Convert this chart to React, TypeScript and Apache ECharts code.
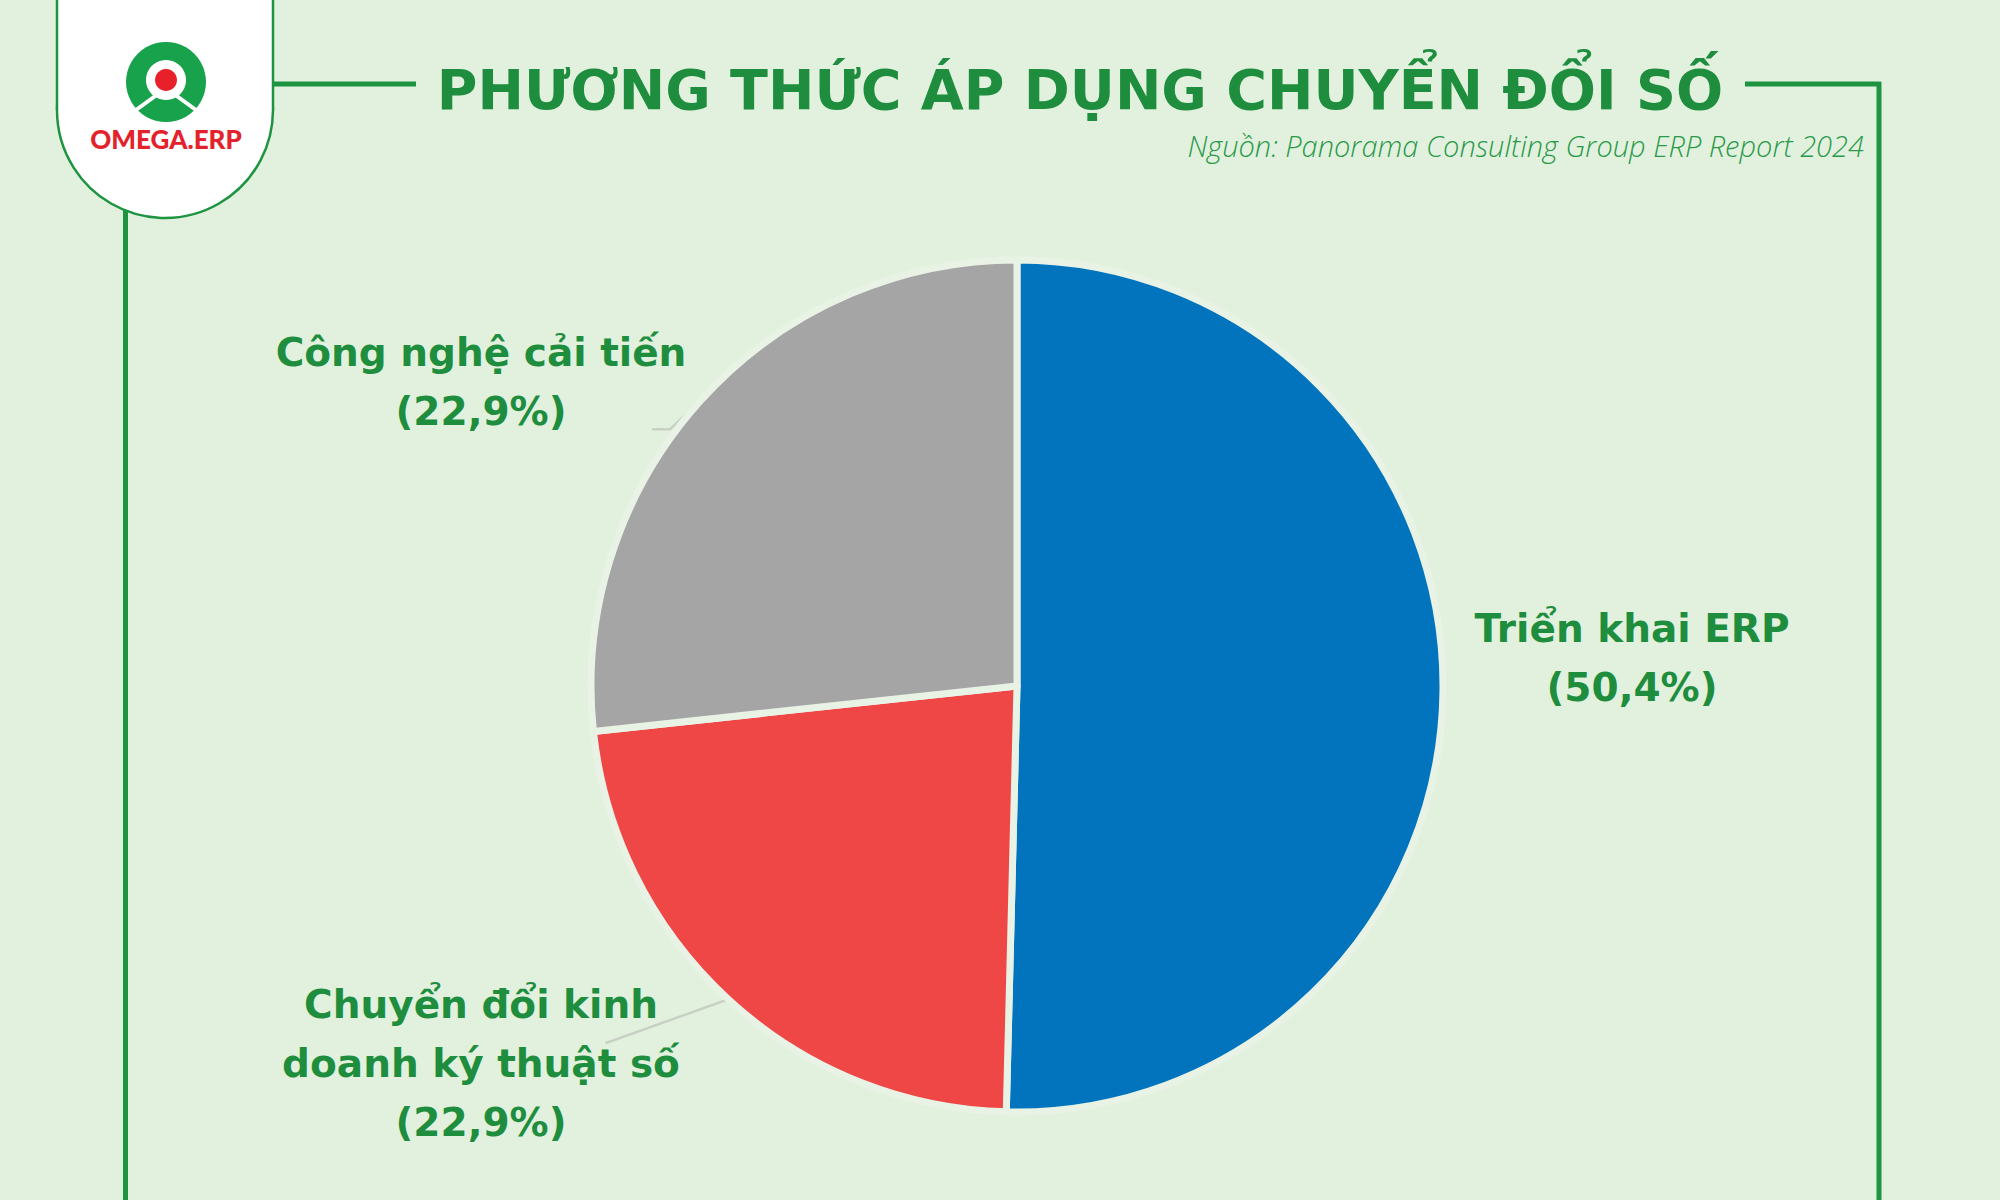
import React, { useEffect, useRef } from "react";
import * as echarts from "echarts";

const categories = ["Triển khai ERP", "Chuyển đổi kinh\ndoanh ký thuật số", "Công nghệ cải tiến"];
const values = [50.4, 22.9, 26.7];
const percentLabels = ["50,4%", "22,9%", "22,9%"];
const colors = ["#0174bd", "#ef4646", "#a5a5a5"];
const labelCenters = [
  [1632, 658],
  [481, 1063],
  [481, 382],
];
// label-line bends, relative to the slice edge point
const labelLineBends: number[][][] = [
  [],
  [[-123, 44]],
  [[-30, 28], [-48, 28]],
];

const titleText = "PHƯƠNG THỨC ÁP DỤNG CHUYỂN ĐỔI SỐ";
const sourceText = "Nguồn: Panorama Consulting Group ERP Report 2024";
const brandText = "OMEGA.ERP";

const GREEN = "#1d9440";
const TEXT_GREEN = "#1e8e3e";
const BG = "#e2f1de";

export default function App() {
  const ref = useRef<HTMLDivElement>(null);

  useEffect(() => {
    document.body.style.margin = "0";
    const chart = echarts.init(ref.current!, null, { renderer: "svg" });
    const option: any = {
      animation: false,
      backgroundColor: BG,
      graphic: [
        // frame lines
        { type: "line", shape: { x1: 273, y1: 84, x2: 416, y2: 84 }, style: { stroke: GREEN, lineWidth: 5 } },
        { type: "line", shape: { x1: 1745, y1: 84, x2: 1881, y2: 84 }, style: { stroke: GREEN, lineWidth: 5 } },
        { type: "line", shape: { x1: 1879, y1: 82, x2: 1879, y2: 1200 }, style: { stroke: GREEN, lineWidth: 5 } },
        { type: "line", shape: { x1: 125.5, y1: 200, x2: 125.5, y2: 1200 }, style: { stroke: GREEN, lineWidth: 5 } },
        // logo badge
        { type: "circle", shape: { cx: 165, cy: 110, r: 108 }, style: { fill: "#ffffff", stroke: GREEN, lineWidth: 2.5 } },
        { type: "rect", shape: { x: 57, y: -10, width: 216, height: 120 }, style: { fill: "#ffffff" } },
        { type: "line", shape: { x1: 57, y1: -5, x2: 57, y2: 110 }, style: { stroke: GREEN, lineWidth: 2.5 } },
        { type: "line", shape: { x1: 273, y1: -5, x2: 273, y2: 110 }, style: { stroke: GREEN, lineWidth: 2.5 } },
        // logo icon
        { type: "circle", shape: { cx: 166, cy: 82, r: 40 }, style: { fill: "#18a24c" } },
        { type: "line", shape: { x1: 158, y1: 94, x2: 136, y2: 110 }, style: { stroke: "#ffffff", lineWidth: 4 } },
        { type: "line", shape: { x1: 174, y1: 94, x2: 196, y2: 110 }, style: { stroke: "#ffffff", lineWidth: 4 } },
        { type: "circle", shape: { cx: 166, cy: 80, r: 20 }, style: { fill: "#ffffff" } },
        { type: "circle", shape: { cx: 166, cy: 80, r: 11 }, style: { fill: "#e8202a" } },
        {
          type: "text",
          x: 166,
          y: 139,
          style: {
            text: brandText,
            fill: "#e3222b",
            fontSize: 26,
            fontWeight: 900,
            fontFamily: "Lato",
            align: "center",
            verticalAlign: "middle",
          },
        },
        // title
        {
          type: "text",
          x: 1080,
          y: 89,
          style: {
            text: titleText,
            fill: TEXT_GREEN,
            fontSize: 55.5,
            fontWeight: "bold",
            fontFamily: "DejaVu Sans",
            align: "center",
            verticalAlign: "middle",
          },
        },
        {
          type: "text",
          x: 1864,
          y: 145,
          style: {
            text: sourceText,
            fill: "#2a9a4a",
            fontSize: 29,
            fontWeight: 300,
            fontStyle: "italic",
            fontFamily: "Open Sans",
            align: "right",
            verticalAlign: "middle",
          },
        },
      ],
      series: [
        {
          type: "pie",
          center: [1017, 686],
          radius: 426,
          startAngle: 90,
          clockwise: true,
          itemStyle: { borderColor: "#e8f2e5", borderWidth: 7 },
          label: {
            show: true,
            position: "outside",
            formatter: (p: any) => `${categories[p.dataIndex]}\n(${percentLabels[p.dataIndex]})`,
            color: TEXT_GREEN,
            fontSize: 39,
            fontWeight: "bold",
            fontFamily: "DejaVu Sans",
            lineHeight: 59,
            align: "center",
          },
          labelLine: { show: true, lineStyle: { color: "#c9d1c6", width: 2.5 } },
          labelLayout: (p: any) => {
            const out: any = {
              x: labelCenters[p.dataIndex][0],
              y: labelCenters[p.dataIndex][1],
              align: "center",
              verticalAlign: "middle",
            };
            const pts = p.labelLinePoints;
            const bends = labelLineBends[p.dataIndex];
            if (pts && pts[0] && bends.length) {
              const p0 = pts[0];
              const line = [[p0[0], p0[1]]].concat(bends.map((b) => [p0[0] + b[0], p0[1] + b[1]]));
              if (line.length === 2) line.push(line[1]);
              out.labelLinePoints = line;
            }
            return out;
          },
          data: categories.map((name, i) => ({
            name,
            value: values[i],
            itemStyle: { color: colors[i] },
            labelLine: { show: i !== 0 },
          })),
        },
      ],
    };
    chart.setOption(option);
    return () => chart.dispose();
  }, []);

  return (
    <div
      ref={ref}
      style={{ position: "absolute", left: 0, top: 0, width: 2000, height: 1200 }}
    />
  );
}
